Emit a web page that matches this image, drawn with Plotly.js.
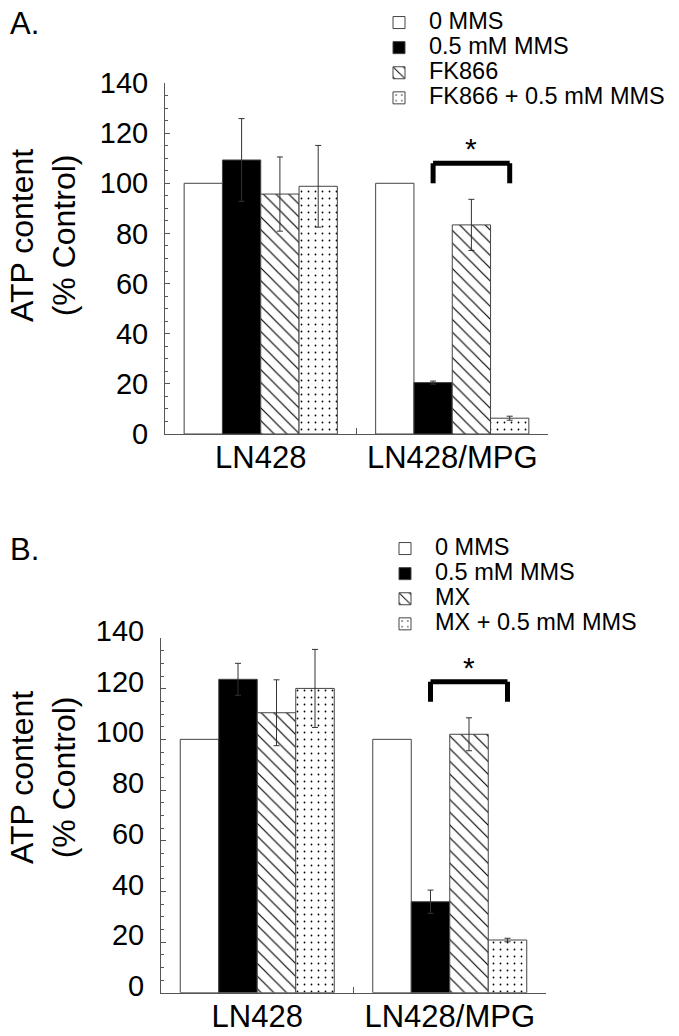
<!DOCTYPE html>
<html>
<head>
<meta charset="utf-8">
<script src="https://cdn.plot.ly/plotly-3.0.1.min.js"></script>
<style>html,body{margin:0;padding:0;background:#fff;}#chart{width:679px;height:1036px;}</style>
</head>
<body>
<div id="chart"></div>
<script>
// ---- data ----
var categories = ['LN428', 'LN428/MPG'];

var namesA = ['0 MMS', '0.5 mM MMS', 'FK866', 'FK866 + 0.5 mM MMS'];
var A_ctrl = [100, 100];
var A_mms = [109.3, 20.5];
var A_mms_err = [16.5, 0.6];
var A_fk = [95.7, 83.4];
var A_fk_err = [14.8, 10.2];
var A_fkmms = [98.8, 6.3];
var A_fkmms_err = [16.3, 0.8];

var namesB = ['0 MMS', '0.5 mM MMS', 'MX', 'MX + 0.5 mM MMS'];
var B_ctrl = [100, 100];
var B_mms = [123.7, 35.9];
var B_mms_err = [6.3, 4.6];
var B_mx = [110.5, 102];
var B_mx_err = [13, 6.5];
var B_mxmms = [120.1, 20.8];
var B_mxmms_err = [15.4, 0.7];

var yTicks = [0, 20, 40, 60, 80, 100, 120, 140];
var yTitle = 'ATP content<br>(% Control)';
// significance brackets: [x start (category index), x end, lower y, upper y]
var bracketA = [0.9, 1.3, 100, 108];
var bracketB = [0.9, 1.3, 114.8, 122.7];
var starA = 106.5;
var starB = 121.2;

// ---- styles ----
var FONT = 'Liberation Sans, Arial, sans-serif';
var outline = {color: '#444', width: 1};
var errStyle = function (arr) {
  return {type: 'data', array: arr, visible: true, color: '#333', thickness: 1, width: 3};
};
var styles = [
  {color: '#ffffff', pattern: null},
  {color: '#000000', pattern: null},
  {color: '#ffffff', pattern: {shape: '\\', fgcolor: '#000', bgcolor: '#fff', size: 9, solidity: 0.13}},
  {color: '#ffffff', pattern: {shape: '.', fgcolor: '#000', bgcolor: '#fff', size: 7, solidity: 0.05}}
];

function legName(s) { return '<span style="font-size:23.5px">' + s + '</span>'; }

function mkTrace(i, name, y, err, xa, ya, leg) {
  var m = {color: styles[i].color, line: outline};
  if (styles[i].pattern) m.pattern = styles[i].pattern;
  var t = {
    type: 'bar', x: categories, y: y, name: legName(name),
    xaxis: xa, yaxis: ya, legend: leg, marker: m, hoverinfo: 'skip'
  };
  if (err) t.error_y = errStyle(err);
  return t;
}

var data = [
  mkTrace(0, namesA[0], A_ctrl, null, 'x', 'y', 'legend'),
  mkTrace(1, namesA[1], A_mms, A_mms_err, 'x', 'y', 'legend'),
  mkTrace(2, namesA[2], A_fk, A_fk_err, 'x', 'y', 'legend'),
  mkTrace(3, namesA[3], A_fkmms, A_fkmms_err, 'x', 'y', 'legend'),
  mkTrace(0, namesB[0], B_ctrl, null, 'x2', 'y2', 'legend2'),
  mkTrace(1, namesB[1], B_mms, B_mms_err, 'x2', 'y2', 'legend2'),
  mkTrace(2, namesB[2], B_mx, B_mx_err, 'x2', 'y2', 'legend2'),
  mkTrace(3, namesB[3], B_mxmms, B_mxmms_err, 'x2', 'y2', 'legend2')
];

var W = 679, H = 1036;
function px(x) { return x / W; }
function py(y) { return 1 - y / H; }

function xAxis(domain, anchor) {
  return {
    domain: domain, anchor: anchor, type: 'category',
    showline: true, linecolor: '#555', linewidth: 1,
    ticks: 'inside', tickson: 'boundaries', ticklen: 6, tickcolor: '#555',
    tickfont: {family: FONT, size: 31, color: '#000'},
    ticklabelstandoff: -4,
    showgrid: false, zeroline: false, fixedrange: true
  };
}
function yAxis(domain, anchor, shift) {
  return {
    domain: domain, anchor: anchor, range: [0, 140],
    tickvals: yTicks, ticktext: yTicks.map(String),
    showline: true, linecolor: '#555', linewidth: 1,
    ticks: 'inside', ticklen: 5, tickcolor: '#555',
    minor: {dtick: 5, tick0: 0, ticks: 'inside', ticklen: 3, tickcolor: '#555', showgrid: false},
    tickfont: {family: FONT, size: 29, color: '#000'},
    ticklabelstandoff: 10, ticklabelshift: shift,
    showgrid: false, zeroline: false, fixedrange: true
  };
}

function bracket(b, xr, yr) {
  var ln = {color: '#000', width: 5};
  return [
    {type: 'line', xref: xr, yref: yr, x0: b[0], x1: b[0], y0: b[2], y1: b[3], line: ln},
    {type: 'line', xref: xr, yref: yr, x0: b[0], x1: b[1], y0: b[3], y1: b[3], line: ln},
    {type: 'line', xref: xr, yref: yr, x0: b[1], x1: b[1], y0: b[2], y1: b[3], line: ln}
  ];
}

var layout = {
  width: W, height: H,
  margin: {l: 0, r: 0, t: 0, b: 0},
  paper_bgcolor: '#fff', plot_bgcolor: 'rgba(0,0,0,0)',
  font: {family: FONT, color: '#000'},
  barmode: 'group', bargap: 0.2, bargroupgap: 0,
  showlegend: true,
  xaxis: xAxis([px(165), px(548)], 'y'),
  yaxis: yAxis([py(434), py(83)], 'x', 0),
  xaxis2: xAxis([px(161), px(546)], 'y2'),
  yaxis2: yAxis([py(992.7), py(638)], 'x2', -7),
  legend: {
    x: px(369), y: py(5), xanchor: 'left', yanchor: 'top',
    font: {family: FONT, size: 17, color: '#000'},
    bgcolor: 'rgba(0,0,0,0)', borderwidth: 0, itemwidth: 50,
    traceorder: 'normal', itemclick: false
  },
  legend2: {
    x: px(375), y: py(531), xanchor: 'left', yanchor: 'top',
    font: {family: FONT, size: 17, color: '#000'},
    bgcolor: 'rgba(0,0,0,0)', borderwidth: 0, itemwidth: 50,
    traceorder: 'normal', itemclick: false
  },
  shapes: bracket(bracketA, 'x', 'y').concat(bracket(bracketB, 'x2', 'y2')),
  annotations: [
    {text: 'A.', xref: 'paper', yref: 'paper', x: px(8), y: py(24), xanchor: 'left', yanchor: 'middle',
     showarrow: false, font: {family: FONT, size: 31, color: '#000'}},
    {text: 'B.', xref: 'paper', yref: 'paper', x: px(8), y: py(549), xanchor: 'left', yanchor: 'middle',
     showarrow: false, font: {family: FONT, size: 31, color: '#000'}},
    {text: yTitle, xref: 'paper', yref: 'paper', x: px(43), y: py(236), xanchor: 'center', yanchor: 'middle',
     textangle: -90, showarrow: false, font: {family: FONT, size: 32, color: '#000'}},
    {text: yTitle, xref: 'paper', yref: 'paper', x: px(43), y: py(778), xanchor: 'center', yanchor: 'middle',
     textangle: -90, showarrow: false, font: {family: FONT, size: 32, color: '#000'}},
    {text: '*', xref: 'x', yref: 'y', x: (bracketA[0] + bracketA[1]) / 2, y: starA, yanchor: 'bottom',
     showarrow: false, font: {family: FONT, size: 30, color: '#000'}},
    {text: '*', xref: 'x2', yref: 'y2', x: (bracketB[0] + bracketB[1]) / 2, y: starB, yanchor: 'bottom',
     showarrow: false, font: {family: FONT, size: 30, color: '#000'}}
  ]
};

Plotly.newPlot('chart', data, layout, {staticPlot: true, displayModeBar: false});
</script>
</body>
</html>
